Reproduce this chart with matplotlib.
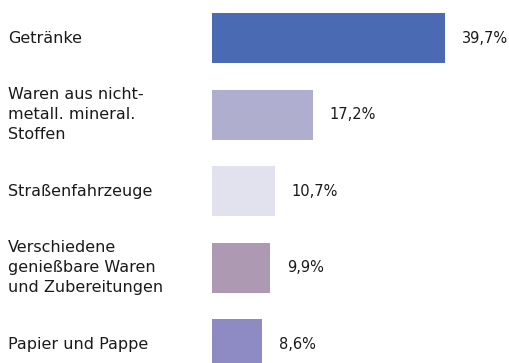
import matplotlib
matplotlib.use("Agg")
import matplotlib.pyplot as plt

categories = ["Getränke",
              "Waren aus nicht-\nmetall. mineral.\nStoffen",
              "Straßenfahrzeuge",
              "Verschiedene\ngenießbare Waren\nund Zubereitungen",
              "Papier und Pappe"]
shares = [39.7, 17.2, 10.7, 9.9, 8.6]
colors = ["#4a6bb3", "#afaecf", "#e2e2ee", "#ad99b2", "#8e8ac4"]

fig = plt.figure(figsize=(5.1, 3.63), dpi=100)
ax = fig.add_axes([0, 0, 1, 1])

ypos = list(range(len(categories)))
ax.barh(ypos, shares, height=0.654, color=colors, left=0)

for y, name, v in zip(ypos, categories, shares):
    ax.text(-34.7, y, name, ha="left", va="center", fontsize=11.5,
            color="#1a1a1a", linespacing=1.4)
    ax.annotate(f"{v:.1f}%".replace(".", ","), (v, y), xytext=(12.3, 0),
                textcoords="offset points", ha="left", va="center",
                fontsize=10.5, color="#1a1a1a")

ax.set_xlim(-36.1, 50.8)
ax.set_ylim(4.248, -0.497)
ax.axis("off")

fig.savefig("out.png", dpi=100)
